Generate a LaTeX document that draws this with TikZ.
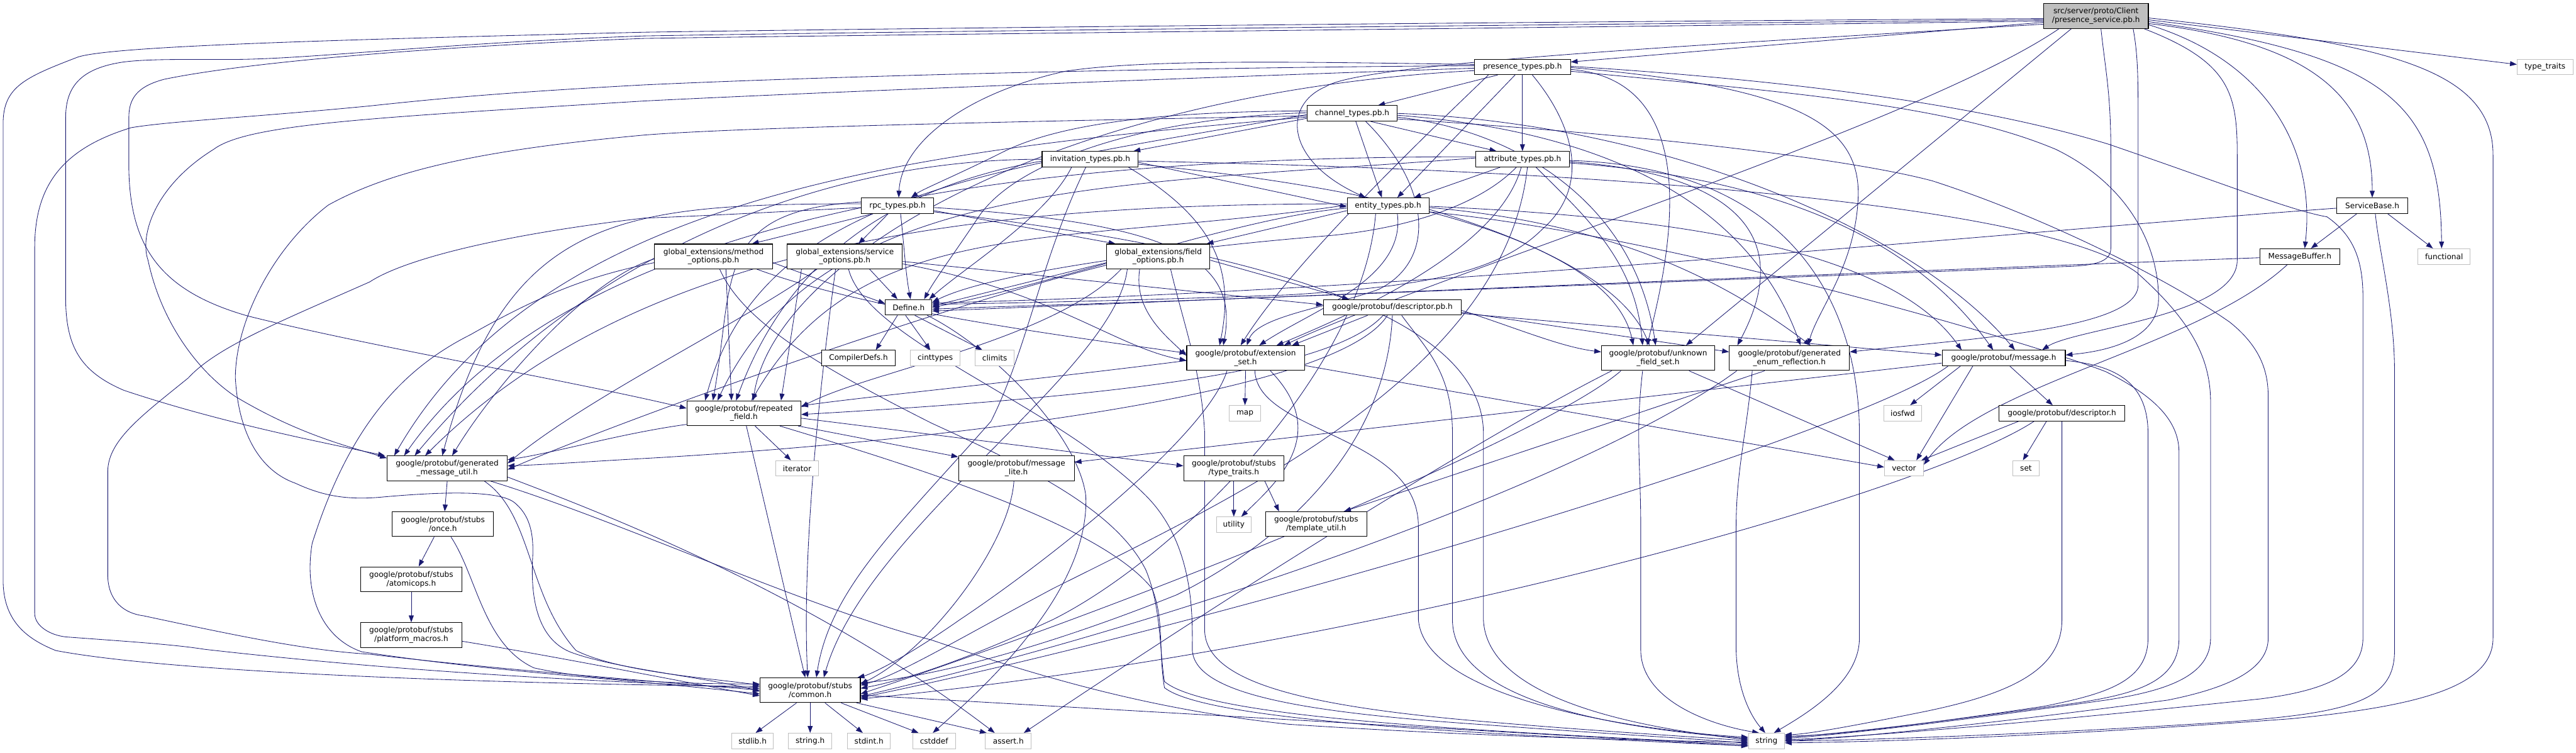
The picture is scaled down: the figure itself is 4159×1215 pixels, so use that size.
\documentclass[tikz,border=0pt]{standalone}
\usepackage{fontspec}
\newfontfamily\nf{DejaVu Sans}
\usetikzlibrary{arrows.meta}
\definecolor{edgec}{HTML}{191970}
\definecolor{graybox}{HTML}{BFBFBF}
\pgfdeclarelayer{bgl}
\pgfdeclarelayer{edges}
\pgfsetlayers{bgl,edges,main}
\tikzset{
 nb/.style={draw=black, line width=1.1pt, fill=white, inner sep=0pt, align=center, font=\nf\fontsize{12.3}{14}\selectfont},
 ng/.style={draw=graybox, line width=1.1pt, fill=white, inner sep=0pt, align=center, font=\nf\fontsize{12.3}{14}\selectfont},
 nm/.style={draw=black, line width=1.1pt, fill=graybox, inner sep=0pt, align=center, font=\nf\fontsize{12.3}{14}\selectfont},
 e/.style={draw=edgec, line width=0.85pt, -{Triangle[length=11pt,width=8pt]}},
}
\begin{document}
\begin{tikzpicture}[x=1pt,y=1pt]
\useasboundingbox (0,0) rectangle (4159,-1215);
\begin{pgfonlayer}{bgl}
\fill[white] (0,0) rectangle (4159,-1215);
\end{pgfonlayer}
% ---------- nodes ----------
\node[nm, minimum width=169pt, minimum height=40pt] (M) at (3384,-26) {src/server/proto/Client\\/presence\_service.pb.h};
\node[ng, minimum width=90pt, minimum height=25pt] (tt) at (4109,-108) {type\_traits};
\node[nb, minimum width=155pt, minimum height=25pt] (P) at (2458,-108) {presence\_types.pb.h};
\node[nb, minimum width=145pt, minimum height=25pt] (C) at (2183,-183) {channel\_types.pb.h};
\node[nb, minimum width=151pt, minimum height=25pt] (A) at (2458,-257) {attribute\_types.pb.h};
\node[nb, minimum width=155pt, minimum height=25pt] (I) at (1760,-257) {invitation\_types.pb.h};
\node[nb, minimum width=132pt, minimum height=25pt] (E) at (2241,-332) {entity\_types.pb.h};
\node[nb, minimum width=117pt, minimum height=25pt] (R) at (1449,-332) {rpc\_types.pb.h};
\node[nb, minimum width=114pt, minimum height=25pt] (SB) at (3830,-332) {ServiceBase.h};
\node[nb, minimum width=191pt, minimum height=40pt] (Me) at (1152,-414) {global\_extensions/method\\\_options.pb.h};
\node[nb, minimum width=186pt, minimum height=40pt] (S) at (1364,-414) {global\_extensions/service\\\_options.pb.h};
\node[nb, minimum width=167pt, minimum height=40pt] (F) at (1870,-414) {global\_extensions/field\\\_options.pb.h};
\node[nb, minimum width=129pt, minimum height=25pt] (MB) at (3713,-414) {MessageBuffer.h};
\node[ng, minimum width=84pt, minimum height=25pt] (fn) at (3946,-414) {functional};
\node[nb, minimum width=75pt, minimum height=25pt] (D) at (1467,-496) {Define.h};
\node[nb, minimum width=223pt, minimum height=25pt] (dpb) at (2248,-496) {google/protobuf/descriptor.pb.h};
\node[nb, minimum width=119pt, minimum height=25pt] (cd) at (1386,-578) {CompilerDefs.h};
\node[ng, minimum width=80pt, minimum height=25pt] (ci) at (1510,-578) {cinttypes};
\node[ng, minimum width=63pt, minimum height=25pt] (cl) at (1606,-578) {climits};
\node[nb, minimum width=190pt, minimum height=40pt] (es) at (2011,-578) {google/protobuf/extension\\\_set.h};
\node[nb, minimum width=183pt, minimum height=40pt] (uf) at (2677,-578) {google/protobuf/unknown\\\_field\_set.h};
\node[nb, minimum width=194pt, minimum height=40pt] (ger) at (2889,-578) {google/protobuf/generated\\\_enum\_reflection.h};
\node[nb, minimum width=199pt, minimum height=25pt] (msg) at (3235,-578) {google/protobuf/message.h};
\node[nb, minimum width=184pt, minimum height=40pt] (rf) at (1201,-667) {google/protobuf/repeated\\\_field.h};
\node[ng, minimum width=50pt, minimum height=25pt] (map) at (2010,-667) {map};
\node[ng, minimum width=61pt, minimum height=25pt] (iosfwd) at (3072,-667) {iosfwd};
\node[nb, minimum width=203pt, minimum height=25pt] (desc) at (3329,-667) {google/protobuf/descriptor.h};
\node[nb, minimum width=194pt, minimum height=40pt] (gmu) at (722,-756) {google/protobuf/generated\\\_message\_util.h};
\node[ng, minimum width=69pt, minimum height=25pt] (it) at (1287,-756) {iterator};
\node[nb, minimum width=187pt, minimum height=40pt] (ml) at (1641,-756) {google/protobuf/message\\\_lite.h};
\node[nb, minimum width=162pt, minimum height=40pt] (stt) at (1992,-756) {google/protobuf/stubs\\/type\_traits.h};
\node[ng, minimum width=63pt, minimum height=25pt] (vec) at (3074,-756) {vector};
\node[ng, minimum width=43pt, minimum height=25pt] (set) at (3271,-756) {set};
\node[nb, minimum width=163pt, minimum height=40pt] (once) at (715,-846) {google/protobuf/stubs\\/once.h};
\node[ng, minimum width=56pt, minimum height=25pt] (ut) at (1992,-847) {utility};
\node[nb, minimum width=163pt, minimum height=40pt] (tu) at (2125,-846) {google/protobuf/stubs\\/template\_util.h};
\node[nb, minimum width=163pt, minimum height=40pt] (ato) at (664,-935) {google/protobuf/stubs\\/atomicops.h};
\node[nb, minimum width=163pt, minimum height=40pt] (pm) at (664,-1025) {google/protobuf/stubs\\/platform\_macros.h};
\node[nb, minimum width=162pt, minimum height=40pt] (com) at (1308,-1114) {google/protobuf/stubs\\/common.h};
\node[ng, minimum width=67pt, minimum height=25pt] (stdlib) at (1215,-1196) {stdlib.h};
\node[ng, minimum width=70pt, minimum height=25pt] (strh) at (1308,-1196) {string.h};
\node[ng, minimum width=69pt, minimum height=25pt] (stdint) at (1403,-1196) {stdint.h};
\node[ng, minimum width=69pt, minimum height=25pt] (cstddef) at (1508,-1196) {cstddef};
\node[ng, minimum width=74pt, minimum height=25pt] (assert) at (1628,-1196) {assert.h};
\node[ng, minimum width=58pt, minimum height=25pt] (str) at (2852,-1196) {string};
% ---------- edges ----------
\begin{pgfonlayer}{edges}
% main
\draw[e] ([yshift=-10pt]M.west) -- ([yshift=8pt]P.east);
\draw[e] ([yshift=-6pt]M.east) -- ([yshift=4pt]tt.west);
\draw[e] ([yshift=-12pt]M.east) .. controls (3740,-70) and (3830,-160) .. (SB.north);
\draw[e] ([yshift=-14pt]M.east) .. controls (3650,-95) and (3740,-230) .. ([xshift=8pt]MB.north);
\draw[e] ([yshift=-9pt]M.east) .. controls (3860,-90) and (3940,-170) .. ([xshift=-4pt]fn.north);
\draw[e] ([yshift=-3pt]M.east) .. controls (3850,-70) and (4025,-110) .. (4025,-250) -- (4025,-1030) .. controls (4025,-1110) and (3900,-1140) .. (3700,-1160) .. controls (3300,-1190) and (3000,-1198) .. ([yshift=-3pt]str.east);
\draw[e] ([xshift=78pt]M.south) .. controls (3600,-100) and (3612,-150) .. (3612,-250) -- (3612,-420) .. controls (3612,-510) and (3350,-530) .. ([xshift=62pt]msg.north);
\draw[e] ([xshift=60pt]M.south) .. controls (3452,-90) and (3452,-130) .. (3452,-200) -- (3452,-460) .. controls (3452,-530) and (3200,-545) .. ([yshift=10pt]ger.east);
\draw[e] ([xshift=-40pt]M.south) -- ([xshift=45pt]uf.north);
\draw[e] ([xshift=8pt]M.south) .. controls (3400,-120) and (3408,-150) .. (3408,-250) -- (3408,-400) .. controls (3408,-420) and (3390,-428) .. (3340,-430) -- (2100,-478) .. controls (1800,-490) and (1600,-495) .. ([yshift=-3pt]D.east);
\draw[e] ([yshift=-4pt]M.west) .. controls (2500,-35) and (1500,-45) .. (1040,-52) .. controls (500,-65) and (180,-75) .. (126,-92) .. controls (40,-125) and (5,-140) .. (5,-200) -- (5,-936) .. controls (5,-1000) and (40,-1030) .. (90,-1050) .. controls (300,-1090) and (900,-1105) .. ([yshift=6pt]com.west);
\draw[e] ([yshift=-6pt]M.west) .. controls (2500,-40) and (1500,-50) .. (1040,-58) .. controls (700,-70) and (500,-96) .. (371,-96) .. controls (300,-96) and (240,-95) .. (200,-100) .. controls (130,-110) and (106,-140) .. (106,-190) -- (106,-480) .. controls (106,-560) and (130,-600) .. (200,-630) .. controls (350,-680) and (500,-710) .. ([xshift=-3pt]gmu.north west);
\draw[e] ([yshift=-8pt]M.west) .. controls (2500,-45) and (1500,-55) .. (1040,-62) .. controls (700,-75) and (400,-100) .. (265,-128) .. controls (220,-140) and (208,-160) .. (208,-190) -- (208,-272) .. controls (210,-400) and (260,-470) .. (400,-510) .. controls (600,-560) and (900,-610) .. ([yshift=8pt]rf.west);
\draw[e] ([yshift=-13pt]M.west) .. controls (2800,-70) and (2200,-100) .. (2140,-140) .. controls (2070,-170) and (2075,-260) .. ([xshift=-36pt]E.north);
\draw[e] ([xshift=-60pt]M.south) .. controls (3100,-200) and (2300,-450) .. ([xshift=62pt]es.north);
% presence
\draw[e] ([xshift=-40pt]P.south) -- ([xshift=42pt]C.north);
\draw[e] (P.south) -- (A.north);
\draw[e] ([xshift=-12pt]P.south) -- ([xshift=15pt]E.north);
\draw[e] ([yshift=4pt]P.west) .. controls (2100,-100) and (1850,-95) .. (1720,-115) .. controls (1560,-150) and (1455,-230) .. ([xshift=2pt]R.north);
\draw[e] ([xshift=16pt]P.south) .. controls (2540,-200) and (2570,-300) .. (2490,-370) .. controls (2420,-440) and (2300,-462) .. (2080,-476) .. controls (1800,-486) and (1600,-490) .. ([yshift=5pt]D.east);
\draw[e] ([yshift=2pt]P.west) .. controls (1800,-110) and (1300,-125) .. (1040,-137) .. controls (800,-150) and (700,-160) .. (597,-171) .. controls (400,-190) and (280,-195) .. (212,-206) .. controls (100,-240) and (56,-300) .. (56,-400) -- (56,-990) .. controls (56,-1010) and (80,-1025) .. (106,-1028) .. controls (200,-1035) and (280,-1040) .. (330,-1048) .. controls (700,-1090) and (1000,-1100) .. ([yshift=3pt]com.west);
\draw[e] ([yshift=-2pt]P.west) .. controls (1800,-130) and (1300,-150) .. (1040,-163) .. controls (600,-190) and (400,-200) .. (345,-241) .. controls (250,-300) and (225,-380) .. (239,-420) .. controls (260,-520) and (320,-600) .. (380,-640) .. controls (480,-700) and (560,-720) .. ([yshift=-4pt]gmu.north west);
\draw[e] ([yshift=-6pt]P.west) .. controls (1700,-150) and (1250,-420) .. ([xshift=15pt]rf.north);
\draw[e] ([xshift=-55pt]P.south) .. controls (2300,-220) and (2090,-420) .. ([xshift=-8pt]es.north);
\draw[e] ([yshift=-4pt]P.east) .. controls (2750,-130) and (2700,-400) .. ([xshift=-18pt]uf.north);
\draw[e] ([yshift=-1pt]P.east) .. controls (2900,-140) and (3005,-200) .. (3000,-320) .. controls (2995,-430) and (2935,-500) .. ([xshift=30pt]ger.north);
\draw[e] ([yshift=-7pt]P.east) .. controls (2900,-150) and (3150,-170) .. (3319,-241) .. controls (3440,-300) and (3485,-400) .. (3485,-482) .. controls (3485,-540) and (3420,-565) .. ([yshift=5pt]msg.east);
\draw[e] ([yshift=1pt]P.east) .. controls (2900,-130) and (3200,-170) .. (3405,-233) .. controls (3600,-300) and (3700,-340) .. (3757,-350) .. controls (3800,-380) and (3815,-420) .. (3815,-480) -- (3815,-1030) .. controls (3815,-1090) and (3750,-1115) .. (3650,-1128) .. controls (3300,-1165) and (3000,-1190) .. ([yshift=2pt]str.east);
% channel
\draw[e] ([xshift=30pt]C.south) -- ([xshift=-42pt]A.north);
\draw[e] ([xshift=6pt]C.south) -- ([xshift=-10pt]E.north);
\draw[e] ([yshift=-8pt]C.west) -- ([xshift=70pt]I.north);
\draw[e] ([yshift=4pt]C.west) .. controls (1900,-180) and (1720,-195) .. (1620,-245) .. controls (1540,-285) and (1490,-305) .. ([xshift=22pt]R.north);
\draw[e] ([yshift=1pt]C.west) .. controls (1850,-190) and (1640,-260) .. (1580,-350) .. controls (1540,-410) and (1510,-450) .. ([xshift=25pt]D.north);
\draw[e] ([xshift=22pt]C.south) .. controls (2310,-300) and (2320,-420) .. (2226,-467) .. controls (2150,-495) and (2030,-510) .. ([xshift=2pt]es.north);
\draw[e] ([yshift=-6pt]C.east) .. controls (2450,-210) and (2640,-330) .. ([xshift=-4pt]uf.north);
\draw[e] ([yshift=-3pt]C.east) .. controls (2700,-220) and (2850,-400) .. ([xshift=18pt]ger.north);
\draw[e] (C.east) .. controls (2700,-200) and (3100,-380) .. ([xshift=18pt]msg.north);
\draw[e] ([yshift=-9pt]C.east) .. controls (2700,-220) and (3000,-260) .. (3120,-292) .. controls (3300,-350) and (3500,-450) .. (3600,-520) .. controls (3650,-560) and (3662,-600) .. (3662,-640) -- (3662,-1030) .. controls (3662,-1080) and (3600,-1110) .. (3500,-1130) .. controls (3200,-1170) and (3000,-1190) .. (str.east);
\draw[e] ([yshift=-4pt]C.west) .. controls (1700,-195) and (1200,-205) .. (1040,-218) .. controls (800,-240) and (640,-270) .. (530,-331) .. controls (440,-400) and (380,-520) .. (380,-610) .. controls (385,-700) and (420,-760) .. (477,-780) .. controls (520,-800) and (560,-808) .. (620,-802) .. controls (700,-795) and (800,-790) .. (829,-810) .. controls (855,-830) and (862,-860) .. (860,-900) .. controls (855,-990) and (880,-1040) .. (928,-1055) .. controls (1000,-1080) and (1150,-1095) .. ([yshift=-2pt]com.west);
\draw[e] ([yshift=-6pt]C.west) .. controls (1511,-241) and (887,-301) .. ([xshift=12pt]gmu.north west);
\draw[e] ([yshift=-2pt]C.west) .. controls (1600,-275) and (1230,-309) .. ([xshift=30pt]rf.north west);
% attribute
\draw[e] ([xshift=-36pt]A.south) -- ([xshift=42pt]E.north);
\draw[e] ([xshift=22pt]A.south) .. controls (2560,-350) and (2640,-420) .. ([xshift=-25pt]uf.north);
\draw[e] ([xshift=-10pt]A.south) .. controls (2400,-320) and (2300,-365) .. (2150,-380) .. controls (1900,-400) and (1600,-440) .. ([yshift=8pt]D.east);
\draw[e] ([xshift=-2pt]A.south) .. controls (2420,-400) and (2200,-500) .. ([xshift=50pt]es.north);
\draw[e] ([yshift=-4pt]A.east) .. controls (2800,-280) and (2900,-380) .. ([xshift=-84pt]ger.north);
\draw[e] ([yshift=-6pt]A.east) .. controls (2900,-290) and (3100,-400) .. ([xshift=-17pt]msg.north);
\draw[e] ([yshift=-2pt]A.east) .. controls (2900,-270) and (3002,-500) .. (3002,-700) -- (3002,-1030) .. controls (3002,-1100) and (2920,-1150) .. ([xshift=12pt]str.north);
\draw[e] ([xshift=8pt]A.south) .. controls (2430,-600) and (2000,-800) .. (1700,-950) .. controls (1550,-1030) and (1450,-1090) .. ([yshift=8pt]com.east);
\draw[e] ([yshift=4pt]A.west) .. controls (1700,-253) and (940,-326) .. ([xshift=28pt]gmu.north west);
\draw[e] ([yshift=2pt]A.west) .. controls (1800,-300) and (1328,-287) .. ([xshift=50pt]rf.north west);
% invitation
\draw[e] ([yshift=-5pt]I.east) -- ([yshift=-2pt]E.west);
\draw[e] ([xshift=-30pt]I.south) .. controls (1690,-350) and (1560,-430) .. ([xshift=-5pt]D.north east);
\draw[e] ([xshift=62pt]I.south) .. controls (1955,-350) and (1995,-428) .. ([xshift=-42pt]es.north);
\draw[e] ([yshift=-8pt]I.east) .. controls (2200,-300) and (2600,-380) .. ([xshift=-40pt]uf.north);
\draw[e] ([yshift=-3pt]I.east) .. controls (2600,-275) and (3300,-330) .. (3450,-440) .. controls (3540,-520) and (3569,-580) .. (3569,-650) -- (3569,-1030) .. controls (3569,-1090) and (3500,-1115) .. (3400,-1130) .. controls (3150,-1165) and (2980,-1185) .. ([yshift=4pt]str.east);
\draw[e] ([xshift=-7pt]I.south) .. controls (1680,-420) and (1660,-560) .. (1600,-680) .. controls (1450,-850) and (1340,-950) .. ([xshift=10pt]com.north);
\draw[e] (I.west) .. controls (1300,-257) and (926,-428) .. ([xshift=45pt]gmu.north west);
\draw[e] ([yshift=-3pt]I.west) .. controls (1450,-300) and (1274,-412) .. ([xshift=80pt]rf.north west);
% entity
\draw[e] ([yshift=-8pt]E.west) -- ([xshift=-6pt]F.north east);
\draw[e] ([yshift=-4pt]E.west) .. controls (2000,-350) and (1700,-460) .. (D.east);
\draw[e] ([xshift=15pt]E.south) .. controls (2270,-450) and (2120,-500) .. ([xshift=22pt]es.north);
\draw[e] ([yshift=-6pt]E.east) .. controls (2450,-380) and (2620,-450) .. ([xshift=-14pt]uf.north);
\draw[e] ([yshift=-3pt]E.east) .. controls (2600,-360) and (2780,-450) .. ([xshift=34pt]ger.north);
\draw[e] ([yshift=-1pt]E.east) .. controls (2700,-350) and (3050,-400) .. ([xshift=-68pt]msg.north);
\draw[e] ([yshift=-10pt]E.east) .. controls (2700,-380) and (3300,-560) .. (3400,-600) .. controls (3480,-640) and (3518,-680) .. (3518,-730) -- (3518,-1030) .. controls (3518,-1100) and (3450,-1120) .. (3350,-1135) .. controls (3100,-1170) and (2960,-1185) .. ([yshift=6pt]str.east);
\draw[e] ([xshift=-20pt]E.south) .. controls (2200,-600) and (1900,-900) .. (1700,-1000) .. controls (1550,-1070) and (1450,-1100) .. ([yshift=3pt]com.east);
\draw[e] ([yshift=3pt]E.west) .. controls (1600,-329) and (1037,-386) .. ([xshift=62pt]gmu.north west);
\draw[e] ([yshift=1pt]E.west) .. controls (1700,-400) and (1389,-343) .. ([xshift=105pt]rf.north west);
% rpc
\draw[e] ([xshift=-40pt]R.south) -- ([xshift=62pt]Me.north);
\draw[e] ([xshift=-15pt]R.south) -- ([xshift=22pt]S.north);
\draw[e] ([yshift=-8pt]R.east) -- ([xshift=15pt]F.north west);
\draw[e] ([xshift=5pt]R.south) .. controls (1460,-400) and (1462,-440) .. ([xshift=3pt]D.north);
\draw[e] ([yshift=-3pt]R.east) .. controls (1900,-360) and (2000,-420) .. ([xshift=-36pt]es.north);
\draw[e] ([yshift=-3pt]R.west) .. controls (1200,-345) and (1100,-350) .. (1040,-352) .. controls (800,-380) and (650,-420) .. (597,-455) .. controls (450,-520) and (350,-560) .. (304,-610) .. controls (230,-670) and (175,-710) .. (174,-760) -- (174,-930) .. controls (175,-970) and (200,-990) .. (232,-994) .. controls (400,-1030) and (500,-1050) .. (597,-1056) .. controls (800,-1080) and (1000,-1095) .. (com.west);
\draw[e] ([yshift=3pt]R.west) .. controls (1000,-329) and (818,-348) .. ([xshift=-8pt]gmu.north);
\draw[e] ([yshift=6pt]R.west) .. controls (1150,-340) and (1186,-451) .. ([xshift=-50pt]rf.north);
\draw[e] ([yshift=-10pt]R.east) .. controls (2000,-400) and (2395,-500) .. (2395,-700) -- (2395,-1000) .. controls (2400,-1130) and (2650,-1175) .. ([yshift=2pt]str.west);
% method
\draw[e] ([yshift=-10pt]Me.east) -- ([yshift=6pt]D.west);
\draw[e] ([xshift=70pt]Me.south) .. controls (1400,-500) and (1700,-540) .. ([yshift=8pt]es.west);
\draw[e] ([yshift=-10pt]Me.west) .. controls (980,-440) and (900,-460) .. (760,-540) .. controls (640,-600) and (560,-700) .. (504,-877) .. controls (490,-960) and (520,-1030) .. (584,-1052) .. controls (800,-1085) and (1000,-1095) .. ([yshift=-6pt]com.west);
\draw[e] ([yshift=-4pt]Me.west) .. controls (950,-450) and (800,-620) .. ([xshift=8pt]gmu.north);
\draw[e] ([xshift=20pt]Me.south) -- ([xshift=-20pt]rf.north);
\draw[e] ([xshift=10pt]Me.south) .. controls (1200,-520) and (1320,-590) .. (1504,-683) .. controls (1650,-750) and (1800,-820) .. (1850,-920) .. controls (1875,-980) and (1872,-1050) .. (1880,-1100) .. controls (1950,-1160) and (2400,-1180) .. ([yshift=-6pt]str.west);
% service
\draw[e] ([xshift=40pt]S.south) -- ([xshift=-18pt]D.north);
\draw[e] ([yshift=-8pt]S.east) -- ([yshift=4pt]dpb.west);
\draw[e] ([yshift=-12pt]S.east) .. controls (1700,-470) and (1800,-560) .. ([yshift=-4pt]es.west);
\draw[e] ([xshift=-15pt]S.south) .. controls (1320,-650) and (1295,-900) .. ([xshift=-4pt]com.north);
\draw[e] ([xshift=-45pt]S.south) .. controls (1200,-520) and (950,-640) .. ([yshift=8pt]gmu.east);
\draw[e] ([xshift=-70pt]S.south) -- ([xshift=60pt]rf.north);
\draw[e] ([xshift=6pt]S.south) .. controls (1400,-550) and (1700,-650) .. (1850,-800) .. controls (1930,-880) and (1925,-1000) .. (1925,-1050) .. controls (1930,-1120) and (2100,-1150) .. (2400,-1170) .. controls (2600,-1185) and (2750,-1193) .. ([yshift=-4pt]str.west);
% field
\draw[e] ([yshift=-10pt]F.west) -- ([yshift=2pt]D.east);
\draw[e] ([xshift=-30pt]F.south) .. controls (1830,-500) and (1880,-540) .. ([yshift=4pt]es.west);
\draw[e] ([yshift=-6pt]F.east) -- ([xshift=-70pt]dpb.north);
\draw[e] ([xshift=-50pt]F.south) .. controls (1800,-600) and (1400,-850) .. ([xshift=22pt]com.north);
\draw[e] ([yshift=-14pt]F.west) .. controls (1500,-500) and (1000,-680) .. ([yshift=-2pt]gmu.east);
\draw[e] ([xshift=-60pt]F.south) .. controls (1700,-550) and (1400,-600) .. ([yshift=10pt]rf.east);
\draw[e] ([xshift=20pt]F.south) .. controls (1910,-520) and (1940,-600) .. (1945,-700) -- (1945,-1020) .. controls (1950,-1100) and (2100,-1140) .. (2400,-1165) .. controls (2600,-1182) and (2750,-1190) .. (str.west);
% descriptor.pb.h
\draw[e] ([xshift=-40pt]dpb.south) -- ([xshift=75pt]es.north);
\draw[e] ([xshift=-15pt]dpb.south) .. controls (2150,-600) and (1800,-640) .. ([yshift=-2pt]rf.east);
\draw[e] ([xshift=-8pt]dpb.south) .. controls (2150,-650) and (1400,-720) .. (1040,-740) .. controls (950,-745) and (880,-750) .. ([yshift=4pt]gmu.east);
\draw[e] (dpb.south) .. controls (2240,-700) and (2100,-860) .. (1900,-960) .. controls (1650,-1060) and (1480,-1095) .. ([yshift=12pt]com.east);
\draw[e] ([xshift=15pt]dpb.south) .. controls (2300,-560) and (2345,-600) .. (2345,-700) -- (2345,-1000) .. controls (2345,-1130) and (2600,-1175) .. ([yshift=4pt]str.west);
\draw[e] ([yshift=-5pt]dpb.east) .. controls (2450,-530) and (2520,-560) .. ([yshift=10pt]uf.west);
\draw[e] ([yshift=-8pt]dpb.east) -- ([yshift=10pt]ger.west);
\draw[e] ([yshift=-10pt]dpb.east) -- ([yshift=5pt]msg.west);
% extension_set
\draw[e] (es.south) -- (map.north);
\draw[e] ([yshift=-4pt]es.west) .. controls (1700,-610) and (1400,-640) .. ([yshift=12pt]rf.east);
\draw[e] ([yshift=-12pt]es.east) -- ([yshift=2pt]vec.west);
\draw[e] ([xshift=40pt]es.south) .. controls (2150,-700) and (2060,-780) .. ([xshift=12pt]ut.north);
\draw[e] ([xshift=-30pt]es.south) .. controls (1950,-700) and (1700,-900) .. (1550,-1000) .. controls (1450,-1070) and (1400,-1090) .. ([xshift=-5pt]com.north east);
\draw[e] ([xshift=15pt]es.south) .. controls (2030,-700) and (2290,-700) .. (2290,-850) -- (2290,-1000) .. controls (2300,-1130) and (2650,-1180) .. ([yshift=6pt]str.west);
% unknown_field_set
\draw[e] ([xshift=-25pt]uf.south) .. controls (2640,-700) and (2649,-750) .. (2649,-850) -- (2649,-1050) .. controls (2650,-1130) and (2760,-1170) .. ([xshift=-12pt]str.north);
\draw[e] ([xshift=50pt]uf.south) -- ([xshift=-15pt]vec.north);
\draw[e] ([xshift=-60pt]uf.south) .. controls (2500,-700) and (1900,-950) .. ([yshift=-6pt]com.east);
\draw[e] ([xshift=-75pt]uf.south) .. controls (2400,-700) and (2000,-950) .. ([xshift=25pt]assert.north);
% generated_enum_reflection
\draw[e] ([xshift=-60pt]ger.south) .. controls (2820,-700) and (2803,-760) .. (2803,-850) -- (2803,-1050) .. controls (2805,-1120) and (2830,-1160) .. ([xshift=-2pt]str.north);
\draw[e] ([xshift=-40pt]ger.south) -- ([xshift=45pt]tu.north);
\draw[e] ([xshift=-85pt]ger.south) .. controls (2600,-750) and (2000,-980) .. ([yshift=-10pt]com.east);
% message
\draw[e] ([xshift=-70pt]msg.south) -- ([xshift=12pt]iosfwd.north);
\draw[e] ([xshift=-50pt]msg.south) -- ([xshift=20pt]vec.north);
\draw[e] ([xshift=10pt]msg.south) -- ([xshift=-15pt]desc.north);
\draw[e] ([yshift=-8pt]msg.west) -- ([yshift=10pt]ml.east);
\draw[e] ([xshift=-90pt]msg.south) .. controls (3000,-700) and (2000,-1000) .. ([yshift=-12pt]com.east);
\draw[e] ([yshift=-4pt]msg.east) .. controls (3420,-590) and (3468,-620) .. (3468,-700) -- (3468,-1030) .. controls (3468,-1100) and (3400,-1120) .. (3300,-1140) .. controls (3100,-1170) and (2950,-1188) .. ([yshift=8pt]str.east);
% descriptor.h
\draw[e] ([xshift=-25pt]desc.south) -- ([xshift=-5pt]set.north);
\draw[e] ([xshift=-70pt]desc.south) -- ([xshift=28pt]vec.north);
\draw[e] (desc.south) -- (3329,-1000) .. controls (3329,-1080) and (3250,-1120) .. (3100,-1150) .. controls (3000,-1170) and (2920,-1185) .. ([yshift=10pt]str.east);
\draw[e] ([xshift=-45pt]desc.south) .. controls (3100,-800) and (2200,-1050) .. ([yshift=-14pt]com.east);
% ServiceBase / MessageBuffer
\draw[e] ([xshift=-25pt]SB.south) -- ([xshift=18pt]MB.north);
\draw[e] ([xshift=25pt]SB.south) -- ([xshift=-18pt]fn.north);
\draw[e] ([xshift=5pt]SB.south) .. controls (3840,-400) and (3866,-500) .. (3866,-600) -- (3866,-1050) .. controls (3866,-1130) and (3800,-1150) .. (3600,-1165) .. controls (3300,-1185) and (3000,-1195) .. (str.east);
\draw[e] ([yshift=-4pt]SB.west) .. controls (3300,-370) and (2300,-470) .. ([yshift=7pt]D.east);
\draw[e] ([yshift=-2pt]MB.west) .. controls (3000,-440) and (2300,-470) .. ([yshift=-6pt]D.east);
\draw[e] ([xshift=-20pt]MB.south) .. controls (3550,-560) and (3200,-620) .. ([yshift=6pt]vec.east);
% repeated_field
\draw[e] ([xshift=18pt]rf.south) -- ([xshift=-10pt]it.north);
\draw[e] ([xshift=4pt]rf.south) -- ([xshift=-8pt]com.north);
\draw[e] ([xshift=-5pt]rf.south east) -- ([yshift=-2pt]ml.north west);
\draw[e] ([yshift=-8pt]rf.east) -- ([yshift=4pt]stt.west);
\draw[e] ([yshift=-18pt]rf.west) .. controls (1000,-700) and (900,-730) .. ([yshift=14pt]gmu.east);
\draw[e] ([xshift=58pt]rf.south) .. controls (1500,-760) and (1780,-850) .. (1860,-950) .. controls (1880,-1000) and (1870,-1050) .. (1880,-1110) .. controls (1950,-1165) and (2400,-1185) .. ([yshift=-8pt]str.west);
% message_lite, stubs
\draw[e] ([xshift=-4pt]ml.south) .. controls (1630,-880) and (1500,-1050) .. ([yshift=10pt]com.east);
\draw[e] (stt.south) -- (ut.north);
\draw[e] ([xshift=50pt]stt.south) -- ([xshift=-60pt]tu.north);
\draw[e] (gmu.south) -- ([xshift=3pt]once.north);
\draw[e] ([xshift=60pt]gmu.south) .. controls (860,-830) and (850,-960) .. (930,-1050) .. controls (1000,-1085) and (1150,-1095) .. ([yshift=8pt]com.west);
\draw[e] ([yshift=-14pt]gmu.east) .. controls (950,-820) and (1300,-950) .. ([xshift=-22pt]assert.north);
\draw[e] ([xshift=70pt]gmu.south) .. controls (1000,-840) and (1300,-980) .. (1504,-1033) .. controls (1700,-1100) and (1869,-1146) .. (2080,-1169) .. controls (2400,-1190) and (2700,-1196) .. ([yshift=-2pt]str.west);
\draw[e] ([xshift=-14pt]once.south) -- ([xshift=12pt]ato.north);
\draw[e] ([xshift=13pt]once.south) .. controls (770,-930) and (780,-1040) .. (862,-1078) .. controls (950,-1098) and (1100,-1104) .. ([yshift=10pt]com.west);
\draw[e] (ato.south) -- (pm.north);
\draw[e] ([yshift=-10pt]pm.east) .. controls (900,-1060) and (1100,-1100) .. ([yshift=-9pt]com.west);
% Define.h
\draw[e] ([xshift=-18pt]D.south) -- ([xshift=28pt]cd.north);
\draw[e] ([xshift=-5pt]D.south) -- ([xshift=-8pt]ci.north);
\draw[e] ([xshift=10pt]D.south) -- ([xshift=-20pt]cl.north);
\draw[e] ([xshift=30pt]D.south) .. controls (1600,-560) and (1740,-700) .. (1753,-800) .. controls (1760,-950) and (1600,-1100) .. ([xshift=-2pt]cstddef.north);
% common.h
\draw[e] ([xshift=-22pt]com.south) -- ([xshift=5pt]stdlib.north);
\draw[e] (com.south) -- (strh.north);
\draw[e] ([xshift=24pt]com.south) -- ([xshift=-10pt]stdint.north);
\draw[e] ([xshift=50pt]com.south) -- ([xshift=-25pt]cstddef.north);
\draw[e] ([xshift=75pt]com.south) -- ([xshift=-35pt]assert.north);
\draw[e] ([yshift=-8pt]com.east) -- ([yshift=-8pt]str.west);
\end{pgfonlayer}
\end{tikzpicture}
\end{document}
